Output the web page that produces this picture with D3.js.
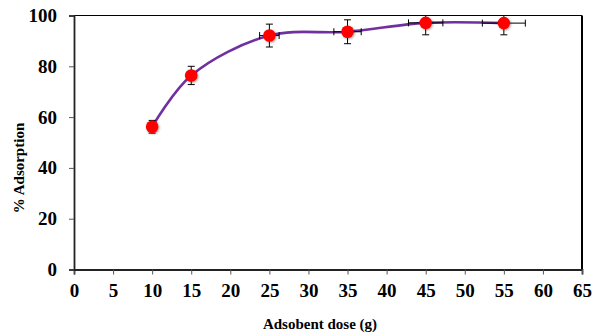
<!DOCTYPE html>
<html>
<head>
<meta charset="utf-8">
<script src="https://cdn.jsdelivr.net/npm/d3@7"></script>
<style>
  html, body { margin: 0; padding: 0; background: #fff; }
  svg { display: block; }
  text { font-family: "Liberation Serif", "DejaVu Serif", serif; font-weight: bold; fill: #000; }
  .tick text { font-size: 19px; }
</style>
</head>
<body>
<svg id="chart" width="593" height="333"></svg>
<script>
// Adsorbent dose (g) against % adsorption, with error bars in both directions
const dose = [10, 15, 25, 35, 45, 55];
const adsorption = [56.2, 76.4, 92.1, 93.6, 97.1, 97.0];
const yErr = [2.5, 3.6, 4.5, 4.7, 4.7, 4.6];
const xErr = [0.5, 0.6, 1.25, 1.75, 2.2, 2.75];
const xTicks = [0, 5, 10, 15, 20, 25, 30, 35, 40, 45, 50, 55, 60, 65];
const yTicks = [0, 20, 40, 60, 80, 100];

const svg = d3.select("#chart");
const plotLeft = 74, plotRight = 582, plotTop = 15.5, plotBottom = 269.5;
const serif = "Liberation Serif, DejaVu Serif, serif";

const x = d3.scaleLinear().domain([0, 65]).range([plotLeft, plotRight]);
const y = d3.scaleLinear().domain([0, 100]).range([plotBottom, plotTop]);

const defs = svg.append("defs");
defs.append("clipPath").attr("id", "plotClip")
  .append("rect").attr("x", plotLeft).attr("y", plotTop)
  .attr("width", plotRight - plotLeft).attr("height", plotBottom - plotTop);
const shadow = defs.append("filter").attr("id", "markerShadow")
  .attr("x", "-50%").attr("y", "-50%").attr("width", "200%").attr("height", "200%");
shadow.append("feDropShadow").attr("dx", 1).attr("dy", 1).attr("stdDeviation", 1.2)
  .attr("flood-color", "#000").attr("flood-opacity", 0.35);

// frame: top and right edges
svg.append("line").attr("x1", plotLeft).attr("x2", plotRight).attr("y1", plotTop).attr("y2", plotTop)
  .attr("stroke", "#000").attr("stroke-width", 1.2);
svg.append("line").attr("x1", plotRight).attr("x2", plotRight).attr("y1", plotTop).attr("y2", plotBottom)
  .attr("stroke", "#000").attr("stroke-width", 2);

// axes
const xAxis = svg.append("g").attr("transform", `translate(0,${plotBottom})`)
  .call(d3.axisBottom(x).tickValues(xTicks).tickSize(5).tickPadding(9).tickFormat(d3.format("d")));
const yAxis = svg.append("g").attr("transform", `translate(${plotLeft},0)`)
  .call(d3.axisLeft(y).tickValues(yTicks).tickSize(5).tickPadding(12).tickFormat(d3.format("d")));
[xAxis, yAxis].forEach(a => {
  a.attr("font-family", serif).attr("font-size", 19).attr("font-weight", "bold");
  a.select(".domain").attr("stroke", "#222").attr("stroke-width", 1.8);
  a.selectAll(".tick line").attr("stroke", "#555").attr("stroke-width", 1);
  a.selectAll(".tick text").attr("font-size", 19).attr("font-family", serif);
});

// axis titles
svg.append("text").attr("x", 320).attr("y", 329)
  .attr("text-anchor", "middle").attr("font-size", 15)
  .text("Adsobent dose (g)");
svg.append("text").attr("transform", "translate(24,168) rotate(-90)")
  .attr("text-anchor", "middle").attr("font-size", 15)
  .text("% Adsorption");

const plot = svg.append("g").attr("clip-path", "url(#plotClip)");
const pts = dose.map((d, i) => ({ x: d, y: adsorption[i], ex: xErr[i], ey: yErr[i] }));

// smoothed series line
plot.append("path").datum(pts)
  .attr("d", d3.line().x(d => x(d.x)).y(d => y(d.y)).curve(d3.curveCatmullRom.alpha(0.5)))
  .attr("fill", "none").attr("stroke", "#7030A0").attr("stroke-width", 2.6);

// error bars
const cap = 3.5;
const eb = plot.append("g").attr("stroke", "#000").attr("stroke-width", 1);
pts.forEach(p => {
  const cx = x(p.x), cy = y(p.y);
  const y0 = y(p.y - p.ey), y1 = y(p.y + p.ey);
  const x0 = x(p.x - p.ex), x1 = x(p.x + p.ex);
  eb.append("line").attr("x1", cx).attr("x2", cx).attr("y1", y0).attr("y2", y1);
  eb.append("line").attr("x1", cx - cap).attr("x2", cx + cap).attr("y1", y0).attr("y2", y0);
  eb.append("line").attr("x1", cx - cap).attr("x2", cx + cap).attr("y1", y1).attr("y2", y1);
  eb.append("line").attr("x1", x0).attr("x2", x1).attr("y1", cy).attr("y2", cy);
  eb.append("line").attr("x1", x0).attr("x2", x0).attr("y1", cy - cap).attr("y2", cy + cap);
  eb.append("line").attr("x1", x1).attr("x2", x1).attr("y1", cy - cap).attr("y2", cy + cap);
});

// markers
svg.append("g").selectAll("circle").data(pts).join("circle")
  .attr("cx", d => x(d.x)).attr("cy", d => y(d.y)).attr("r", 6.3)
  .attr("fill", "#FF0000").attr("filter", "url(#markerShadow)");
</script>
</body>
</html>
